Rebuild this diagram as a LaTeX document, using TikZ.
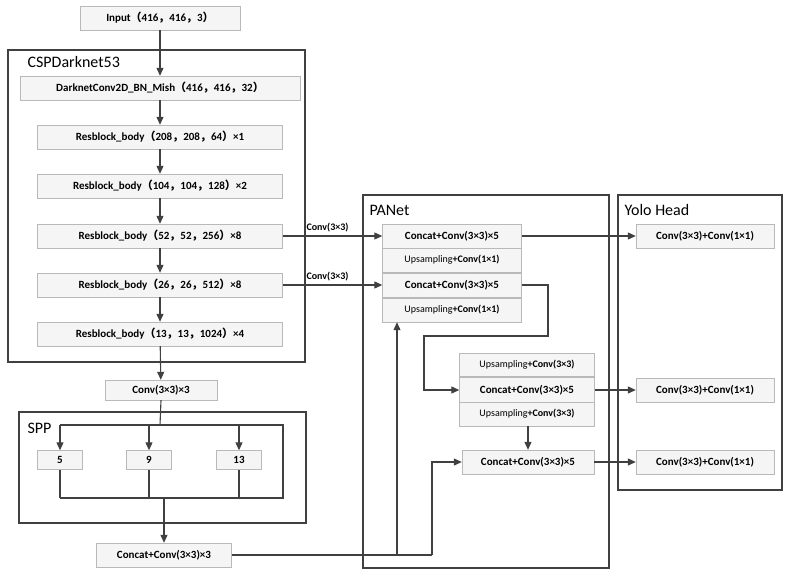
\documentclass[tikz,border=0pt]{standalone}
\usepackage{fontspec}
\setmainfont{Carlito}
\newfontfamily\cjk{Noto Sans CJK SC}
\usetikzlibrary{arrows.meta}
\newcommand{\lp}{{\cjk （}}
\newcommand{\rp}{{\cjk ）}}
\newcommand{\cm}{{\cjk ，}}
\begin{document}
\begin{tikzpicture}[x=1pt,y=-1pt,
  box/.style={draw=gray!55,fill=gray!8,font=\bfseries\fontsize{11}{12}\selectfont,minimum height=24pt,inner sep=1pt},
  grp/.style={draw=black!75,line width=1.2pt},
  ttl/.style={font=\fontsize{16}{18}\selectfont,anchor=west},
  ar/.style={draw=black!75,line width=1.1pt,-{Triangle[length=8pt,width=7pt]}},
  ln/.style={draw=black!75,line width=1.1pt},
  lbl/.style={font=\bfseries\fontsize{10}{12}\selectfont}]
\useasboundingbox (0,0) rectangle (786,576);
% groups
\draw[grp] (8,50) rectangle (305,362);
\node[ttl] (tcsp) at (24,62) {CSPDarknet53};
\draw[grp] (19,412) rectangle (306,523);
\node[ttl] (tspp) at (24,428) {SPP};
\draw[grp] (363,195) rectangle (609,568);
\node[ttl] (tpan) at (366,210) {PANet};
\draw[grp] (618,195) rectangle (782,490);
\node[ttl] (tyolo) at (621,210) {Yolo Head};
% backbone
\node[box,minimum width=160pt] (in) at (160,18) {Input\lp 416\cm 416\cm 3\rp};
\node[box,minimum width=280pt] (dc) at (160,88) {DarknetConv2D\_BN\_Mish\lp 416\cm 416\cm 32\rp};
\node[box,minimum width=245pt] (r1) at (160,137) {Resblock\_body\lp 208\cm 208\cm 64\rp×1};
\node[box,minimum width=245pt] (r2) at (160,186) {Resblock\_body\lp 104\cm 104\cm 128\rp×2};
\node[box,minimum width=245pt] (r3) at (160,236) {Resblock\_body\lp 52\cm 52\cm 256\rp×8};
\node[box,minimum width=245pt] (r4) at (160,285) {Resblock\_body\lp 26\cm 26\cm 512\rp×8};
\node[box,minimum width=245pt] (r5) at (160,334) {Resblock\_body\lp 13\cm 13\cm 1024\rp×4};
\node[box,minimum width=112pt,minimum height=20pt] (c3) at (161,390) {Conv(3×3)×3};
\draw[ar] (in) -- (dc); \draw[ar] (dc) -- (r1); \draw[ar] (r1) -- (r2);
\draw[ar] (r2) -- (r3); \draw[ar] (r3) -- (r4); \draw[ar] (r4) -- (r5);
\draw[ar] (r5) -- (c3);
% SPP
\node[box,minimum width=45pt,minimum height=19pt] (p5) at (60,460) {5};
\node[box,minimum width=45pt,minimum height=19pt] (p9) at (149,460) {9};
\node[box,minimum width=45pt,minimum height=19pt] (p13) at (239,460) {13};
\node[box,minimum width=135pt] (cc) at (164,555) {Concat+Conv(3×3)×3};
\coordinate (st) at (160,425);
\coordinate (sb) at (164,498);
\draw[ln] (c3.south) -- (st);
\draw[ln] (60,425) -- (283,425) -- (283,498) -- (60,498);
\draw[ar] (60,425) -- (p5.north);
\draw[ar] (149,425) -- (p9.north);
\draw[ar] (239,425) -- (p13.north);
\draw[ln] (p5.south) -- (60,498);
\draw[ln] (p9.south) -- (149,498);
\draw[ln] (p13.south) -- (239,498);
\draw[ar] (sb) -- (cc.north);
% PANet
\node[box,minimum width=139pt] (a1) at (452,236) {Concat+Conv(3×3)×5};
\node[box,minimum width=139pt,font=\fontsize{10}{12}\selectfont] (a2) at (452,260) {Upsampling\textbf{+Conv(1×1)}};
\node[box,minimum width=139pt] (a3) at (452,285) {Concat+Conv(3×3)×5};
\node[box,minimum width=139pt,font=\fontsize{10}{12}\selectfont] (a4) at (452,310) {Upsampling\textbf{+Conv(1×1)}};
\node[box,minimum width=135pt,minimum height=23pt,font=\fontsize{10}{12}\selectfont] (b1) at (527,365) {Upsampling\textbf{+Conv(3×3)}};
\node[box,minimum width=135pt,minimum height=25pt] (b2) at (527,390) {Concat+Conv(3×3)×5};
\node[box,minimum width=135pt,minimum height=24pt,font=\fontsize{10}{12}\selectfont] (b3) at (527,414) {Upsampling\textbf{+Conv(3×3)}};
\node[box,minimum width=132pt] (d1) at (528,462) {Concat+Conv(3×3)×5};
% Yolo heads
\node[box,minimum width=138pt] (h1) at (705,236) {Conv(3×3)+Conv(1×1)};
\node[box,minimum width=138pt] (h2) at (705,390) {Conv(3×3)+Conv(1×1)};
\node[box,minimum width=138pt] (h3) at (705,462) {Conv(3×3)+Conv(1×1)};
% connections
\draw[ar] (r3.east) -- node[lbl,above,pos=0.45] (l1) {Conv(3×3)} (a1.west);
\draw[ar] (r4.east) -- node[lbl,above,pos=0.45] (l2) {Conv(3×3)} (a3.west);
\draw[ar] (a3.east) -- (548,285) -- (548,336) -- (424,336) -- (424,390) -- (b2.west);
\draw[ar] (b3.south -| d1.north) -- (d1.north);
\draw[ln] (cc.east) -- (432,555);
\draw[ar] (397,555) -- (a4.south -| 397,0);
\draw[ar] (432,555) -- (432,462) -- (d1.west);
\draw[ar] (a1.east) -- (h1.west);
\draw[ar] (b2.east) -- (h2.west);
\draw[ar] (d1.east) -- (h3.west);
\end{tikzpicture}
\end{document}
